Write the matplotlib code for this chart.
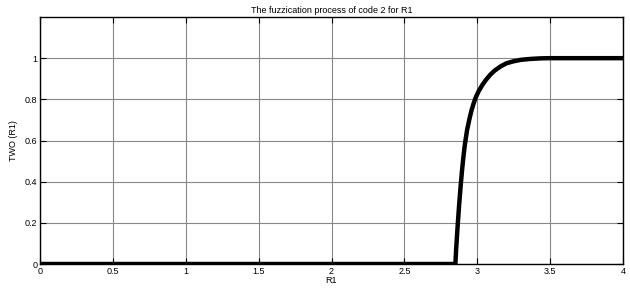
import matplotlib
matplotlib.use("Agg")
import matplotlib.pyplot as plt

# membership curve
r1 = [0, 2.85, 2.855, 2.865, 2.875, 2.885, 2.895, 2.905, 2.915, 2.93, 2.945,
      2.96, 2.975, 2.99, 3.01, 3.035, 3.06, 3.09, 3.12, 3.16, 3.2, 3.25,
      3.3, 3.36, 3.43, 3.5, 4.0]
two = [0, 0, 0.07, 0.18, 0.28, 0.37, 0.45, 0.52, 0.58, 0.65, 0.7,
       0.745, 0.78, 0.81, 0.84, 0.87, 0.895, 0.92, 0.94, 0.96, 0.975, 0.985,
       0.992, 0.996, 0.999, 1.0, 1.0]

xticks = [0, 0.5, 1, 1.5, 2, 2.5, 3, 3.5, 4]
xticklabels = ["0", "0.5", "1", "1.5", "2", "2.5", "3", "3.5", "4"]
yticks = [0, 0.2, 0.4, 0.6, 0.8, 1]
yticklabels = ["0", "0.2", "0.4", "0.6", "0.8", "1"]

plt.rcParams['font.family'] = ['Liberation Sans', 'DejaVu Sans']

fig = plt.figure(figsize=(6.3, 2.89), dpi=100)
ax = fig.add_axes([40 / 630, 25 / 289, 583 / 630, 247 / 289])

ax.plot(r1, two, color='black', linewidth=3.2, solid_capstyle='butt', zorder=3)

ax.set_xlim(0, 4)
ax.set_ylim(0, 1.2)
ax.set_xticks(xticks)
ax.set_xticklabels(xticklabels)
ax.set_yticks(yticks)
ax.set_yticklabels(yticklabels)
ax.grid(True, color='#888888', linewidth=0.8)
ax.tick_params(direction='in', top=True, right=True, length=4.5, width=0.8,
               labelsize=6.5, pad=2)
for s in ax.spines.values():
    s.set_linewidth(1.0)

ax.set_title("The fuzzication process of code 2 for R1", fontsize=6.5, pad=3)
ax.set_xlabel("R1", fontsize=6.5, labelpad=0)
ax.set_ylabel("TWO (R1)", fontsize=6.5, labelpad=5)

fig.savefig("out.png", dpi=100)
